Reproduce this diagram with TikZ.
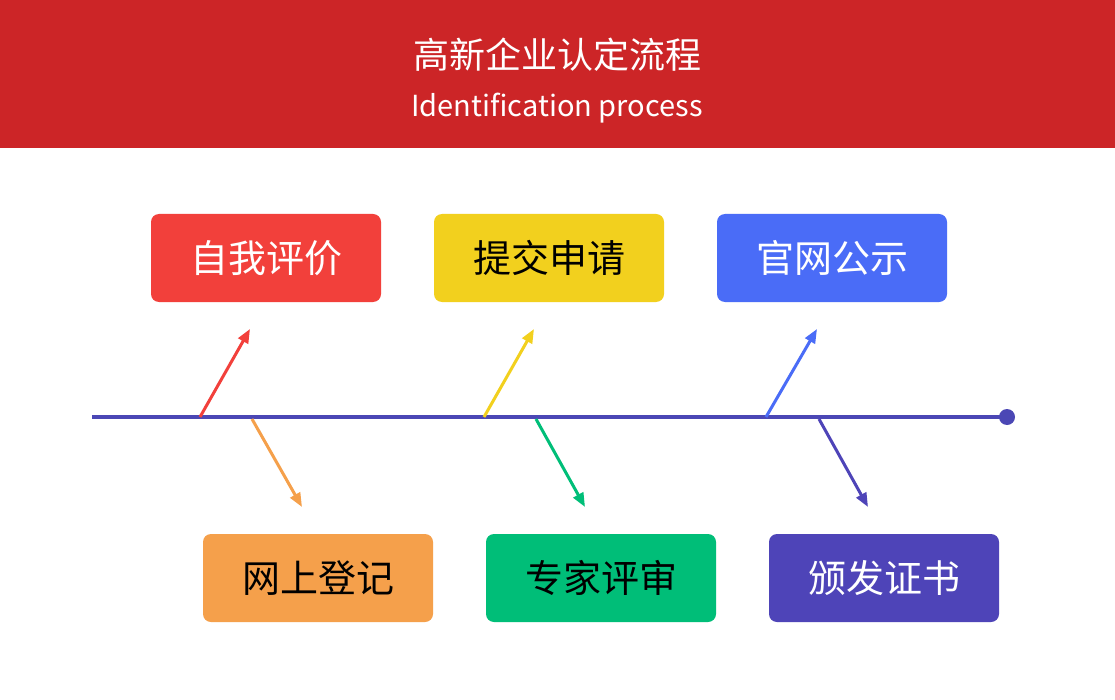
\documentclass[tikz,border=0pt]{standalone}
\usepackage{fontspec}
\setmainfont{Noto Sans CJK SC}
\usetikzlibrary{arrows.meta}
\definecolor{hdr}{HTML}{CC2527}
\definecolor{cRed}{HTML}{F2403B}
\definecolor{cYel}{HTML}{F2D01E}
\definecolor{cBlu}{HTML}{4A6CF7}
\definecolor{cOra}{HTML}{F5A04B}
\definecolor{cGrn}{HTML}{00BE78}
\definecolor{cPur}{HTML}{4E44B8}
\definecolor{axis}{HTML}{4B47B5}
\begin{document}
\begin{tikzpicture}[x=1pt,y=-1pt,
  box/.style={rounded corners=8pt,minimum width=230pt,minimum height=88pt,inner sep=0pt,font=\fontsize{38}{40}\selectfont},
  arr/.style={line width=3pt,-{Triangle[length=14pt,width=11pt]}}]
\useasboundingbox (0,0) rectangle (1115,700);
\fill[white] (0,0) rectangle (1115,700);
\fill[hdr] (0,0) rectangle (1115,148);
\node[text=white,font=\fontsize{36}{38}\selectfont] (t1) at (557,55) {高新企业认定流程};
\node[text=white,font=\fontsize{29}{30}\selectfont] (t2) at (557,108) {Identification process};
% main line
\coordinate (L) at (92,417);
\node[circle,fill=axis,minimum size=16pt,inner sep=0pt] (dot) at (1007,417) {};
\draw[axis,line width=4pt] (L) -- (dot.center);
% boxes
\node[box,fill=cRed,text=white] (b1) at (266,258) {自我评价};
\node[box,fill=cYel,text=black] (b2) at (549,258) {提交申请};
\node[box,fill=cBlu,text=white] (b3) at (832,258) {官网公示};
\node[box,fill=cOra,text=black] (b4) at (318,578) {网上登记};
\node[box,fill=cGrn,text=black] (b5) at (601,578) {专家评审};
\node[box,fill=cPur,text=white] (b6) at (884,578) {颁发证书};
% arrows
\coordinate (s1) at (200,417); \coordinate (e1) at (250,329);
\coordinate (s2) at (252,419); \coordinate (e2) at (302,507);
\coordinate (s3) at (484,417); \coordinate (e3) at (534,329);
\coordinate (s4) at (536,419); \coordinate (e4) at (585,507);
\coordinate (s5) at (766,417); \coordinate (e5) at (817,329);
\coordinate (s6) at (819,419); \coordinate (e6) at (868,507);
\draw[arr,cRed] (s1) -- (e1);
\draw[arr,cOra] (s2) -- (e2);
\draw[arr,cYel] (s3) -- (e3);
\draw[arr,cGrn] (s4) -- (e4);
\draw[arr,cBlu] (s5) -- (e5);
\draw[arr,cPur] (s6) -- (e6);
\end{tikzpicture}
\end{document}
